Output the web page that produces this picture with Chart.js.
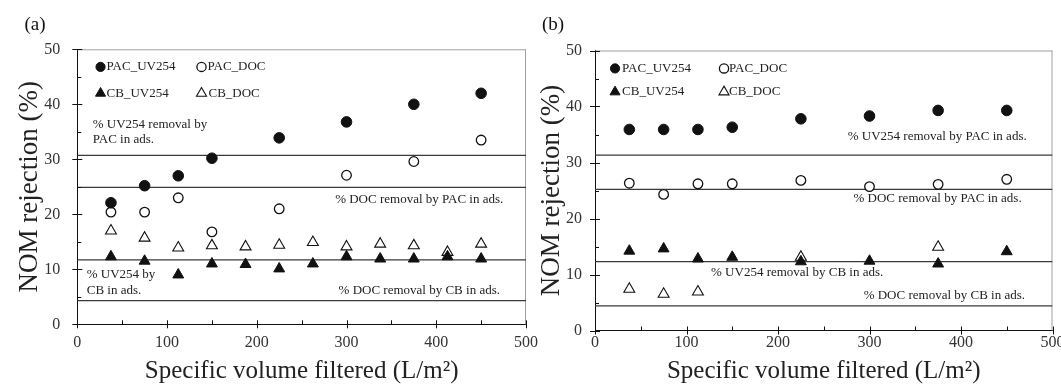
<!DOCTYPE html>
<html><head><meta charset="utf-8">
<script src="https://cdn.jsdelivr.net/npm/chart.js@4.4.1/dist/chart.umd.min.js"></script>
<style>
html,body{margin:0;padding:0;background:#fff;width:1061px;height:387px;overflow:hidden;}
#wa{position:absolute;left:0;top:0;width:545px;height:387px;}
#wb{position:absolute;left:530px;top:0;width:531px;height:387px;}
</style></head><body>
<div id="wa"><canvas id="ca"></canvas></div>
<div id="wb"><canvas id="cb"></canvas></div>
<script>
// ---------- data (panel a) ----------
const volPacA = [37.5, 75, 112.5, 150, 225, 300, 375, 450];
const pacUvA  = [22.1, 25.2, 27.0, 30.2, 33.9, 36.8, 40.0, 42.0];
const pacDocA = [20.4, 20.4, 23.0, 16.8, 21.0, 27.1, 29.6, 33.5];
const volCbA  = [37.5, 75, 112.5, 150, 187.5, 225, 262.5, 300, 337.5, 375, 412.5, 450];
const cbUvA   = [12.3, 11.5, 9.0, 11.0, 10.9, 10.1, 11.0, 12.3, 11.9, 11.9, 12.3, 11.9];
const cbDocA  = [17.0, 15.7, 13.9, 14.3, 14.1, 14.4, 14.9, 14.1, 14.6, 14.3, 13.1, 14.6];
const refA    = [30.7, 24.9, 11.7, 4.3];
// ---------- data (panel b) ----------
const volB    = [37.5, 75, 112.5, 150, 225, 300, 375, 450];
const pacUvB  = [35.9, 35.9, 35.9, 36.3, 37.8, 38.3, 39.3, 39.3];
const pacDocB = [26.3, 24.3, 26.2, 26.2, 26.8, 25.7, 26.1, 27.0];
const cbUvB   = [14.2, 14.6, 12.8, 13.1, 12.3, 12.4, 11.9, 14.1];
const volCbDocB = [37.5, 75, 112.5, 225, 375];
const cbDocB  = [7.4, 6.5, 6.9, 13.1, 14.9];
const refB    = [31.3, 25.2, 12.3, 4.4];
// ---------- axes ----------
const xMin = 0, xMax = 500, xStep = 100;
const yMin = 0, yMax = 50, yStep = 10;
const seriesNames = ['PAC_UV254', 'PAC_DOC', 'CB_UV254', 'CB_DOC'];
const yTitle = 'NOM rejection (%)';
const xTitle = 'Specific volume filtered (L/m\u00B2)';

const FONT = "'Liberation Serif','Times New Roman',serif";
Chart.defaults.font.family = FONT;
Chart.defaults.color = '#222';

const pts = (xs, ys) => xs.map((x, i) => ({x, y: ys[i]}));
const styles = [
  {pointStyle: 'circle', pointRadius: 5.3, pointBackgroundColor: '#111', pointBorderColor: '#111', pointBorderWidth: 1},
  {pointStyle: 'circle', pointRadius: 4.8, pointBackgroundColor: '#fff', pointBorderColor: '#111', pointBorderWidth: 1.3},
  {pointStyle: 'triangle', pointRadius: 6.3, pointBackgroundColor: '#111', pointBorderColor: '#111', pointBorderWidth: 1},
  {pointStyle: 'triangle', pointRadius: 6.3, pointBackgroundColor: '#fff', pointBorderColor: '#111', pointBorderWidth: 1.1}
];

function refDatasets(vals) {
  return vals.map(v => ({
    type: 'line', data: [{x: xMin, y: v}, {x: xMax, y: v}],
    borderColor: '#3a3a3a', borderWidth: 1.2, pointRadius: 0, showLine: true, order: 10, fill: false
  }));
}
function markerDatasets(list) {
  return list.map((d, i) => Object.assign({label: seriesNames[i], data: d, showLine: false, order: 1}, styles[i]));
}

function drawMarker(ctx, st, x, y, r) {
  ctx.save();
  ctx.fillStyle = st.pointBackgroundColor; ctx.strokeStyle = st.pointBorderColor; ctx.lineWidth = st.pointBorderWidth;
  ctx.beginPath();
  if (st.pointStyle === 'circle') {
    ctx.arc(x, y, r, 0, Math.PI * 2);
  } else {
    let rad = 0;
    ctx.moveTo(x + Math.sin(rad) * r, y - Math.cos(rad) * r);
    rad += Math.PI * 2 / 3;
    ctx.lineTo(x + Math.sin(rad) * r, y - Math.cos(rad) * r);
    rad += Math.PI * 2 / 3;
    ctx.lineTo(x + Math.sin(rad) * r, y - Math.cos(rad) * r);
    ctx.closePath();
  }
  ctx.fill(); ctx.stroke();
  ctx.restore();
}

const decor = {
  id: 'decor',
  beforeDatasetsDraw(chart) {
    const {ctx, chartArea: a} = chart;
    ctx.save();
    ctx.strokeStyle = '#a0a0a0'; ctx.lineWidth = 1;
    ctx.beginPath();
    ctx.moveTo(a.left, a.top + 0.5); ctx.lineTo(a.right, a.top + 0.5);
    ctx.moveTo(a.right - 0.5, a.top); ctx.lineTo(a.right - 0.5, a.bottom);
    ctx.stroke();
    ctx.restore();
  },
  afterDraw(chart, args, opts) {
    const {ctx, chartArea: a, scales} = chart;
    const xs = scales.x, ys = scales.y;
    ctx.save();
    // ticks
    ctx.strokeStyle = '#111'; ctx.lineWidth = 1;
    ctx.beginPath();
    const yt = ys.ticks.map(t => t.value);
    yt.forEach((v, i) => {
      const p = Math.round(ys.getPixelForValue(v)) + 0.5;
      ctx.moveTo(a.left - 5, p); ctx.lineTo(a.left + 5, p);
      if (i < yt.length - 1) {
        const m = Math.round(ys.getPixelForValue((v + yt[i + 1]) / 2)) + 0.5;
        ctx.moveTo(a.left, m); ctx.lineTo(a.left + 4, m);
      }
    });
    const xt = xs.ticks.map(t => t.value);
    xt.forEach((v, i) => {
      const p = Math.round(xs.getPixelForValue(v)) + 0.5;
      ctx.moveTo(p, a.bottom - 4); ctx.lineTo(p, a.bottom + 4);
      if (i < xt.length - 1) {
        const m = Math.round(xs.getPixelForValue((v + xt[i + 1]) / 2)) + 0.5;
        ctx.moveTo(m, a.bottom); ctx.lineTo(m, a.bottom - 4);
      }
    });
    ctx.stroke();
    // legend
    ctx.font = '13px ' + FONT; ctx.fillStyle = '#222'; ctx.textBaseline = 'middle'; ctx.textAlign = 'left';
    opts.legend.forEach(it => {
      const px = xs.getPixelForValue(it.x), py = ys.getPixelForValue(it.y);
      const st = styles[it.s];
      drawMarker(ctx, st, px, py, st.pointStyle === 'circle' ? 4.6 : 5.8);
      ctx.fillStyle = '#222';
      ctx.fillText(seriesNames[it.s], px + it.gap, py);
    });
    // annotations
    opts.notes.forEach(n => {
      ctx.textAlign = n.align;
      ctx.fillText(n.text, xs.getPixelForValue(n.x), ys.getPixelForValue(n.y));
    });
    // panel label
    ctx.font = '19px ' + FONT; ctx.textAlign = 'center'; ctx.fillStyle = '#111';
    ctx.fillText(opts.panel.text, opts.panel.x, opts.panel.y);
    ctx.restore();
  }
};

function makeChart(id, datasets, geo, legend, notes, panel) {
  return new Chart(document.getElementById(id), {
    type: 'scatter',
    data: {datasets},
    options: {
      responsive: true, maintainAspectRatio: false, animation: false, devicePixelRatio: 1,
      layout: {padding: {left: 0, right: geo.right, top: geo.top, bottom: 0}},
      plugins: {legend: {display: false}, tooltip: {enabled: false}, decor: {legend, notes, panel}},
      scales: {
        x: {
          type: 'linear', min: xMin, max: xMax,
          ticks: {stepSize: xStep, font: {size: 16}, color: '#333', padding: geo.xPad, maxRotation: 0},
          grid: {display: false, drawTicks: false},
          border: {display: true, color: '#111', width: 1},
          title: {display: true, text: xTitle, font: {size: 25}, color: '#222', padding: {top: 0, bottom: 1}},
          afterFit(s) { s.height = geo.xH; s.paddingLeft = 0; s.paddingRight = 0; }
        },
        y: {
          type: 'linear', min: yMin, max: yMax,
          ticks: {stepSize: yStep, font: {size: 16}, color: '#333', padding: geo.yPad},
          grid: {display: false, drawTicks: false},
          border: {display: true, color: '#111', width: 1},
          title: {display: true, text: yTitle, font: {size: 27}, color: '#222', padding: {top: geo.yTitlePad, bottom: 0}},
          afterFit(s) { s.width = geo.yW; s.paddingTop = 0; s.paddingBottom = 0; }
        }
      }
    },
    plugins: [decor]
  });
}

makeChart('ca',
  markerDatasets([pts(volPacA, pacUvA), pts(volPacA, pacDocA), pts(volCbA, cbUvA), pts(volCbA, cbDocA)]).concat(refDatasets(refA)),
  {right: 19, top: 49.3, xH: 62.7, yW: 77.3, xPad: 9, yPad: 17, yTitlePad: 14},
  [{s: 0, x: 25.9, y: 46.8, gap: 6}, {s: 1, x: 138.4, y: 46.8, gap: 6}, {s: 2, x: 25.9, y: 42.0, gap: 6}, {s: 3, x: 138.4, y: 42.0, gap: 7}],
  [
    {text: '% UV254 removal by', x: 17.2, y: 36.4, align: 'left'},
    {text: 'PAC in ads.', x: 17.2, y: 33.5, align: 'left'},
    {text: '% DOC removal by PAC in ads.', x: 474.7, y: 22.6, align: 'right'},
    {text: '% UV254 by', x: 10.5, y: 9.1, align: 'left'},
    {text: 'CB in ads.', x: 10.5, y: 6.05, align: 'left'},
    {text: '% DOC removal by CB in ads.', x: 471, y: 6.2, align: 'right'}
  ],
  {text: '(a)', x: 35, y: 25}
);

makeChart('cb',
  markerDatasets([pts(volB, pacUvB), pts(volB, pacDocB), pts(volB, cbUvB), pts(volCbDocB, cbDocB)]).concat(refDatasets(refB)),
  {right: 8.5, top: 50.5, xH: 56.5, yW: 65, xPad: 3, yPad: 13, yTitlePad: 6},
  [{s: 0, x: 21.9, y: 46.8, gap: 7}, {s: 1, x: 141, y: 46.8, gap: 5}, {s: 2, x: 21.9, y: 42.6, gap: 7}, {s: 3, x: 141, y: 42.6, gap: 5}],
  [
    {text: '% UV254 removal by PAC in ads.', x: 471.8, y: 34.6, align: 'right'},
    {text: '% DOC removal by PAC in ads.', x: 466.3, y: 23.6, align: 'right'},
    {text: '% UV254 removal by CB in ads.', x: 126.8, y: 10.3, align: 'left'},
    {text: '% DOC removal by CB in ads.', x: 470, y: 6.3, align: 'right'}
  ],
  {text: '(b)', x: 23, y: 25}
);
</script>
</body></html>
